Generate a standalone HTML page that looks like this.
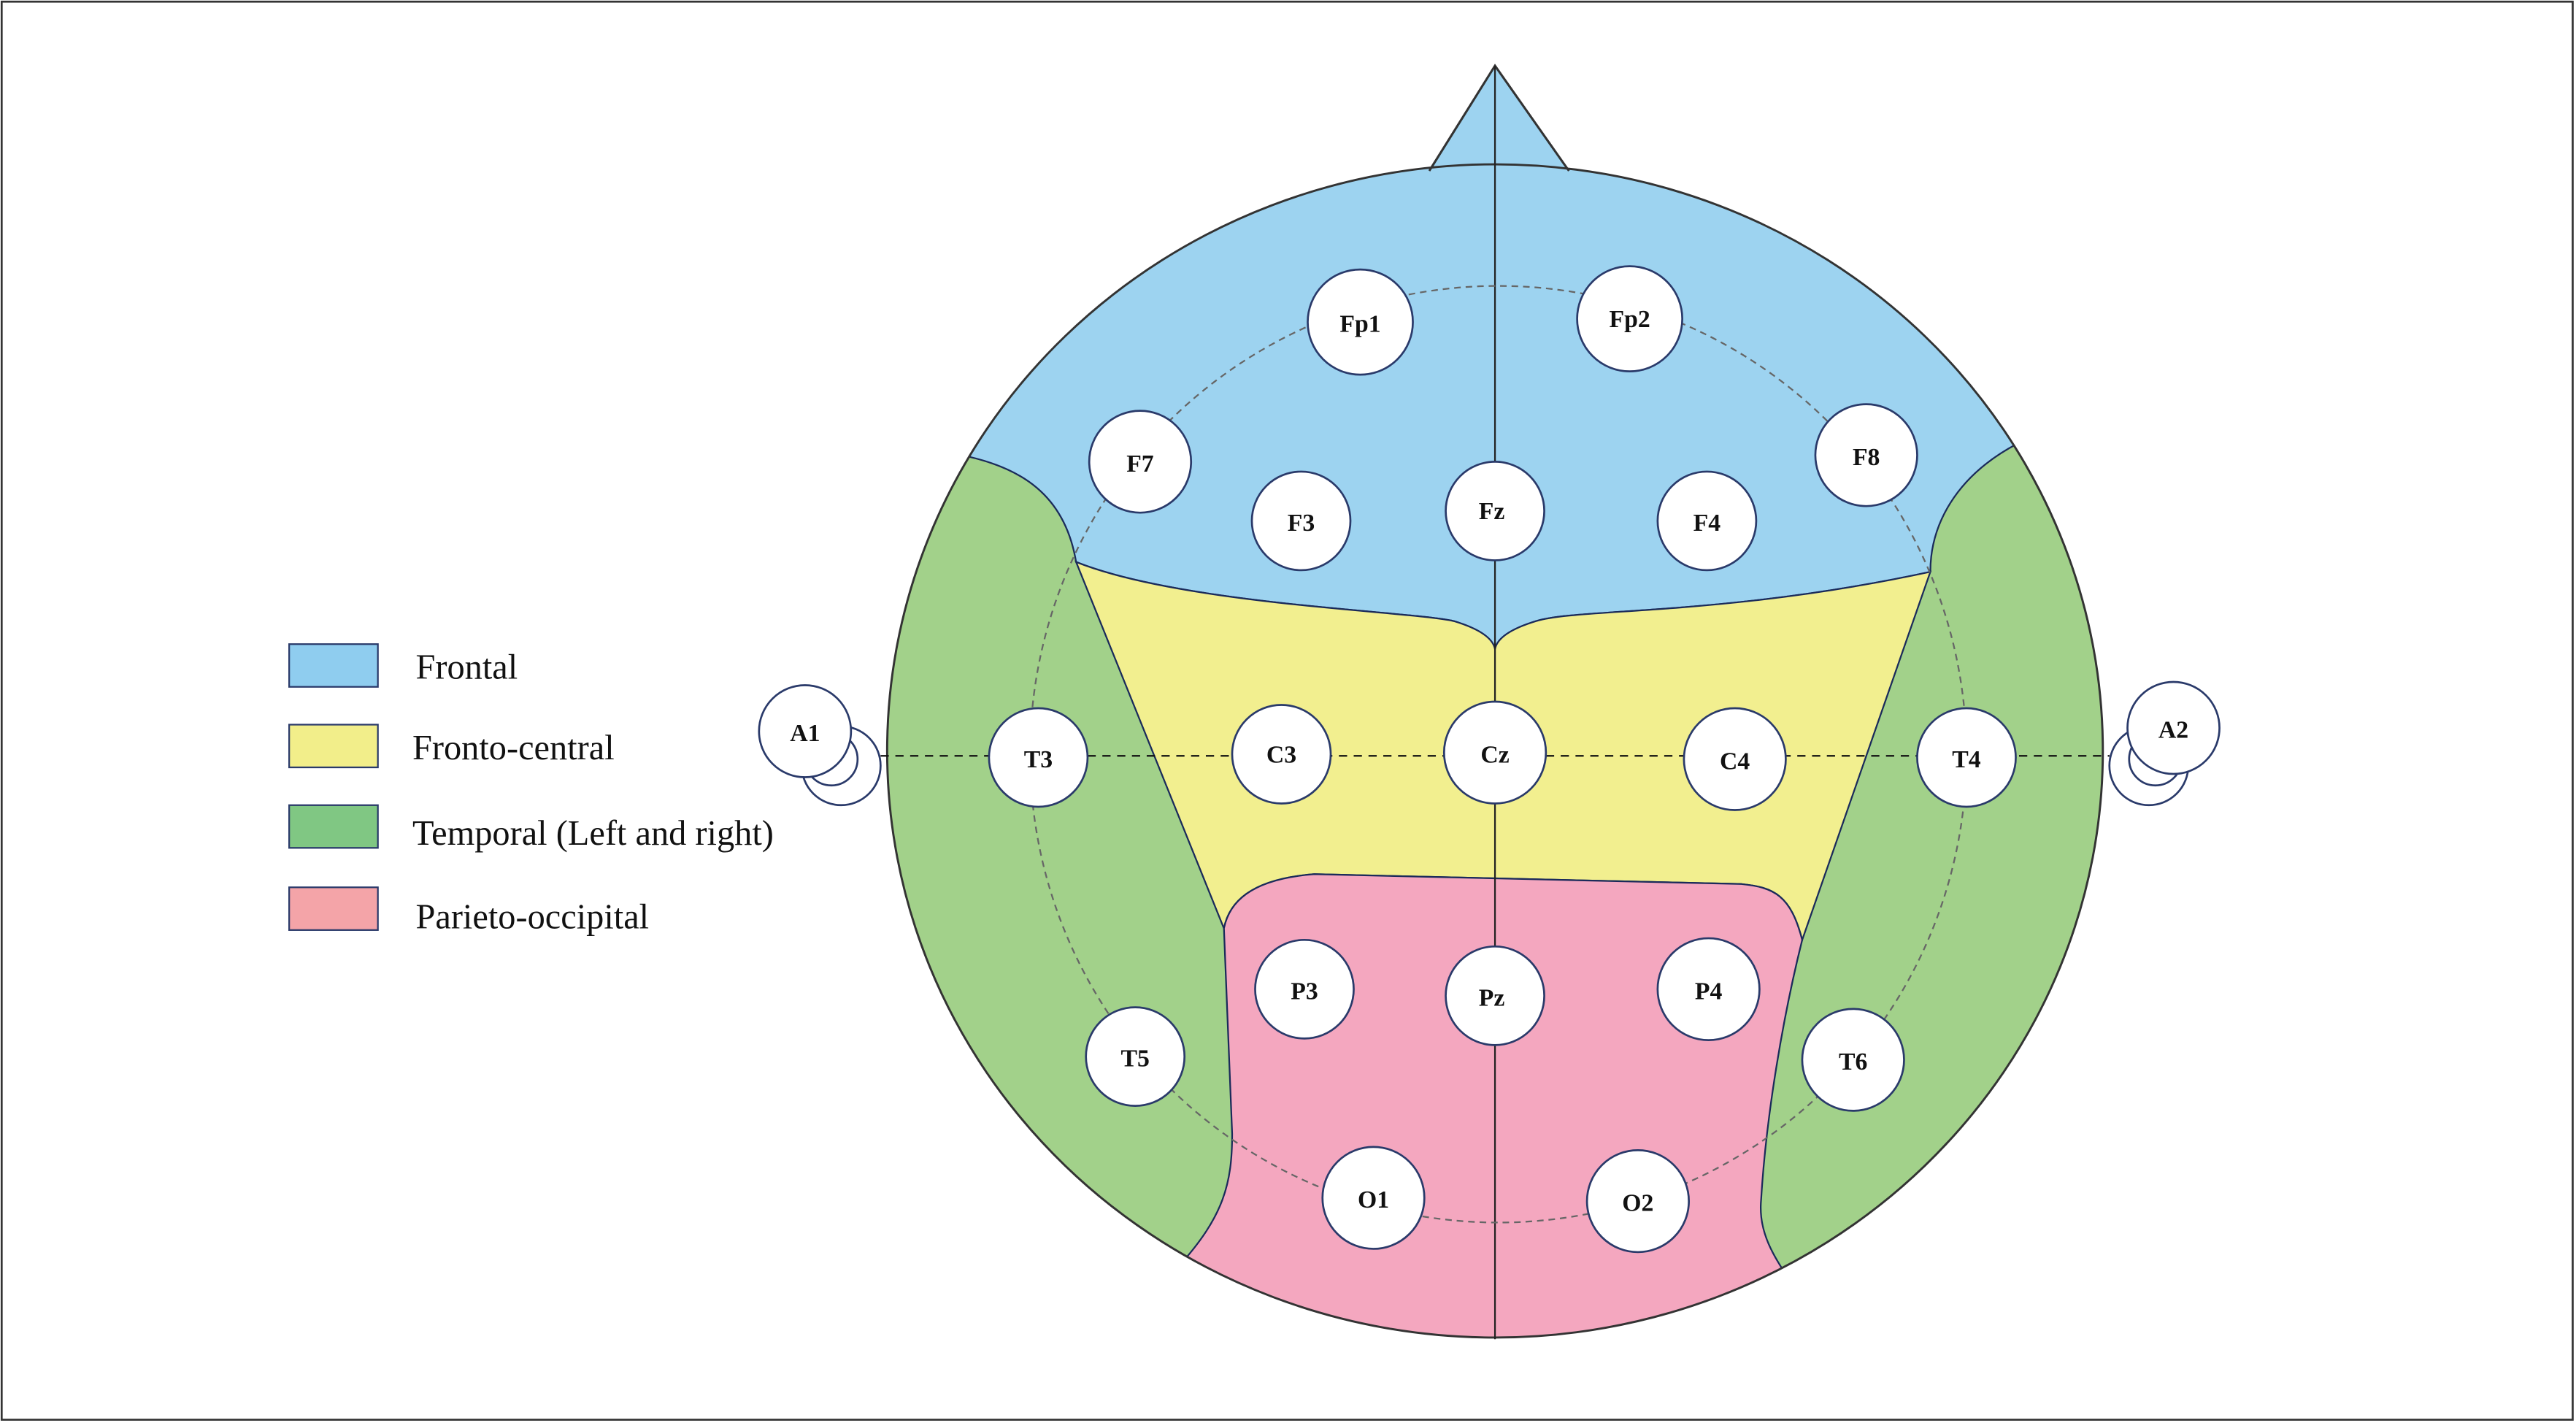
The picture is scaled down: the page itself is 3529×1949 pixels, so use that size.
<!DOCTYPE html>
<html><head><style>html,body{margin:0;padding:0;background:#fff}svg{display:block}</style></head>
<body>
<svg width="3529" height="1949" viewBox="0 0 1568 866" xmlns="http://www.w3.org/2000/svg">
<rect x="1" y="1" width="1565" height="863" fill="#fff" stroke="#333" stroke-width="1.2"/>
<defs><clipPath id="h"><ellipse cx="910" cy="457" rx="370" ry="357"/></clipPath></defs>
<path d="M870,104 L910,40 L955,104 Z" fill="#9dd3f0" stroke="#333" stroke-width="1.3"/>
<ellipse cx="910" cy="457" rx="370" ry="357" fill="#a2d18a"/>
<g clip-path="url(#h)">
<path d="M500,0 L1320,0 L1320,270 L1228,270 C1190,290 1175,320 1175,348 C1050,375 960,370 935,378 Q912,385 910,395 Q908,385 885,378 C860,372 720,368 655,342 C648,300 620,285 590,278 L500,278 Z" fill="#9dd3f0" stroke="#1a2a5a" stroke-width="1"/>
<path d="M655,342 C720,368 860,372 885,378 Q908,385 910,395 Q912,385 935,378 C960,370 1050,375 1175,348 L1097,572 C1090,545 1080,540 1060,538 L800,532 C760,535 748,550 745,565 Z" fill="#f2ef8f" stroke="#1a2a5a" stroke-width="1"/>
<path d="M745,565 C748,550 760,535 800,532 L1060,538 C1080,540 1090,545 1097,572 C1085,620 1075,680 1072,730 C1070,750 1080,765 1090,780 L1090,900 L700,900 L718,770 C745,740 750,720 750,690 Z" fill="#f4a7bf" stroke="#1a2a5a" stroke-width="1"/>
</g>
<path d="M870,104 L910,40 L955,104" fill="none" stroke="#333" stroke-width="1.3"/>
<ellipse cx="910" cy="457" rx="370" ry="357" fill="none" stroke="#333" stroke-width="1.3"/>
<line x1="910" y1="40" x2="910" y2="815" stroke="#222" stroke-width="1"/>
<circle cx="912" cy="459" r="285" fill="none" stroke="#666" stroke-width="1" stroke-dasharray="4 3"/>
<g fill="#fff" stroke="#2a3a6a" stroke-width="1.2">
<circle cx="512" cy="466" r="24"/><circle cx="506" cy="462" r="16"/><circle cx="490" cy="445" r="28"/>
<circle cx="1308" cy="466" r="24"/><circle cx="1312" cy="462" r="16"/><circle cx="1323" cy="443" r="28"/>
</g>
<line x1="536" y1="460" x2="1284" y2="460" stroke="#111" stroke-width="1" stroke-dasharray="5 4"/>
<g fill="#fff" stroke="#2a3a6a" stroke-width="1.2">
<circle cx="828" cy="196" r="32"/><circle cx="992" cy="194" r="32"/><circle cx="694" cy="281" r="31"/><circle cx="1136" cy="277" r="31"/>
<circle cx="792" cy="317" r="30"/><circle cx="910" cy="311" r="30"/><circle cx="1039" cy="317" r="30"/>
<circle cx="632" cy="461" r="30"/><circle cx="780" cy="459" r="30"/><circle cx="910" cy="458" r="31"/><circle cx="1056" cy="462" r="31"/><circle cx="1197" cy="461" r="30"/>
<circle cx="794" cy="602" r="30"/><circle cx="910" cy="606" r="30"/><circle cx="1040" cy="602" r="31"/>
<circle cx="691" cy="643" r="30"/><circle cx="1128" cy="645" r="31"/><circle cx="836" cy="729" r="31"/><circle cx="997" cy="731" r="31"/>
</g>
<g font-family="Liberation Serif, serif" font-weight="bold" font-size="15" text-anchor="middle" fill="#111">
<text x="828" y="202">Fp1</text><text x="992" y="199">Fp2</text><text x="694" y="287">F7</text><text x="1136" y="283">F8</text>
<text x="792" y="323">F3</text><text x="908" y="316">Fz</text><text x="1039" y="323">F4</text>
<text x="632" y="467">T3</text><text x="780" y="464">C3</text><text x="910" y="464">Cz</text><text x="1056" y="468">C4</text><text x="1197" y="467">T4</text>
<text x="794" y="608">P3</text><text x="908" y="612">Pz</text><text x="1040" y="608">P4</text>
<text x="691" y="649">T5</text><text x="1128" y="651">T6</text><text x="836" y="735">O1</text><text x="997" y="737">O2</text>
<text x="490" y="451">A1</text><text x="1323" y="449">A2</text>
</g>
<g stroke="#2a3a6a" stroke-width="1">
<rect x="176" y="392" width="54" height="26" fill="#8fcdef"/>
<rect x="176" y="441" width="54" height="26" fill="#f2ee8a"/>
<rect x="176" y="490" width="54" height="26" fill="#80c783"/>
<rect x="176" y="540" width="54" height="26" fill="#f4a4a8"/>
</g>
<g font-family="Liberation Serif, serif" font-size="21.5" fill="#111">
<text x="253" y="413">Frontal</text><text x="251" y="462">Fronto-central</text>
<text x="251" y="514">Temporal (Left and right)</text><text x="253" y="565">Parieto-occipital</text>
</g>
</svg>
</body></html>
